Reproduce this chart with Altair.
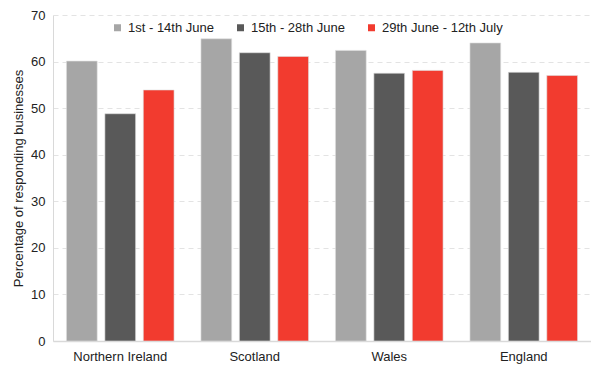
import altair as alt
import pandas as pd

regions = ["Northern Ireland", "Scotland", "Wales", "England"]
periods = ["1st - 14th June", "15th - 28th June", "29th June - 12th July"]
period1 = [60.1, 64.9, 62.4, 64.0]
period2 = [48.8, 61.9, 57.5, 57.7]
period3 = [53.9, 61.1, 58.1, 57.0]
colors = ["#a6a6a6", "#595959", "#f23b2f"]

rows = []
for series, vals in zip(periods, [period1, period2, period3]):
    for r, v in zip(regions, vals):
        rows.append({"region": r, "period": series, "value": v})
df = pd.DataFrame(rows)

font = "Liberation Sans"

chart = alt.Chart(df).mark_bar(stroke="#e0e0e0", strokeWidth=1, strokeOpacity=0.6).encode(
    x=alt.X("region:N", sort=regions, title=None,
            scale=alt.Scale(paddingInner=0.2, paddingOuter=0.1),
            axis=alt.Axis(labelAngle=0, ticks=False, labelPadding=9, labelFontSize=13,
                          labelColor="#222222", labelFont=font,
                          domainColor="#d9d9d9", domainWidth=1.5, grid=False)),
    xOffset=alt.XOffset("period:N", sort=periods,
                        scale=alt.Scale(paddingInner=0.2, paddingOuter=0)),
    y=alt.Y("value:Q", title="Percentage of responding businesses",
            scale=alt.Scale(domain=[0, 70], nice=False),
            axis=alt.Axis(values=list(range(0, 71, 10)), ticks=False, labelPadding=8,
                          labelFontSize=13, labelColor="#222222", labelFont=font,
                          titleFont=font, titleFontSize=13, titleFontWeight="normal",
                          titleColor="#222222", titleX=-28,
                          domainColor="#d9d9d9", domainWidth=1,
                          gridColor="#e3e3e3", gridDash=[5, 4], gridWidth=1)),
    color=alt.Color("period:N", sort=periods,
                    scale=alt.Scale(domain=periods, range=colors),
                    legend=alt.Legend(title=None, orient="none", direction="horizontal",
                                      legendX=58, legendY=6, symbolType="square",
                                      symbolSize=49, symbolStrokeWidth=0,
                                      labelFont=font, labelFontSize=13,
                                      labelColor="#222222", columnPadding=20,
                                      labelOffset=4)),
).properties(
    width=538, height=326,
    autosize=alt.AutoSizeParams(type="none"),
    padding={"left": 45, "top": 7, "right": 0, "bottom": 35},
).configure_view(stroke=None)

chart.save("out.html", embed_options={"renderer": "svg", "actions": False})
